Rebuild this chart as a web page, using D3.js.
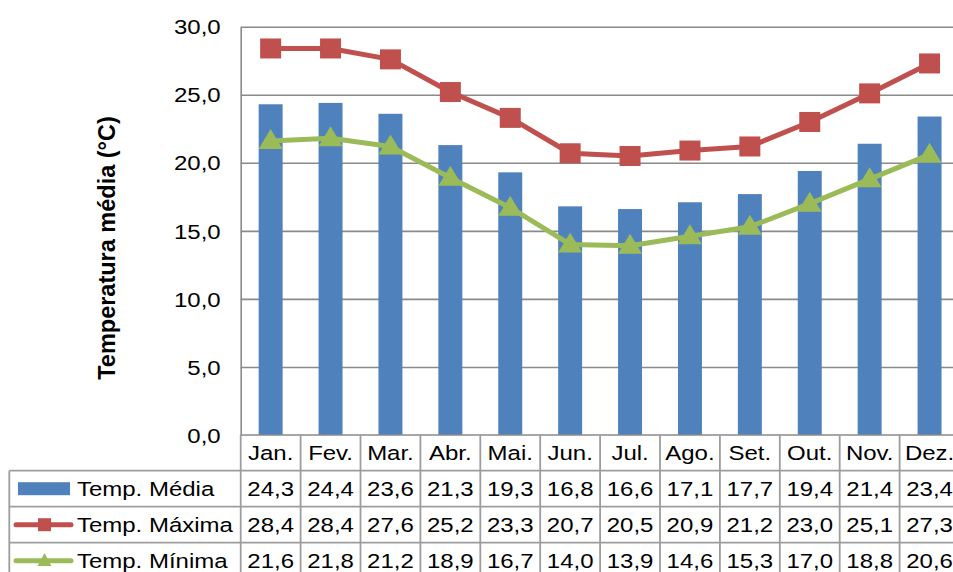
<!DOCTYPE html>
<html>
<head>
<meta charset="utf-8">
<script src="https://cdn.jsdelivr.net/npm/d3@7"></script>
<style>
  html, body { margin: 0; padding: 0; background: #fff; overflow: hidden; }
  svg { display: block; font-family: "Liberation Sans", Arial, sans-serif; }
</style>
</head>
<body>
<svg id="chart" width="953" height="572"></svg>
<script>
// Monthly temperatures (°C)
const categories = ["Jan.", "Fev.", "Mar.", "Abr.", "Mai.", "Jun.", "Jul.", "Ago.", "Set.", "Out.", "Nov.", "Dez."];
const tempMedia  = [24.3, 24.4, 23.6, 21.3, 19.3, 16.8, 16.6, 17.1, 17.7, 19.4, 21.4, 23.4];
const tempMaxima = [28.4, 28.4, 27.6, 25.2, 23.3, 20.7, 20.5, 20.9, 21.2, 23.0, 25.1, 27.3];
const tempMinima = [21.6, 21.8, 21.2, 18.9, 16.7, 14.0, 13.9, 14.6, 15.3, 17.0, 18.8, 20.6];
const yTicks = [0, 5, 10, 15, 20, 25, 30];
const seriesNames = ["Temp. Média", "Temp. Máxima", "Temp. Mínima"];

const COLORS = { media: "#4F81BD", maxima: "#C0504D", minima: "#9BBB59" };
const GRID = "#8a8a8a";
const TABLE_LINE = "#9d9d9d";
const SX = 1.17; // horizontal text widening

const fmt = v => d3.format(".1f")(v).replace(".", ",");

const svg = d3.select("#chart");

const plot = { left: 240.7, top: 26.7, bottom: 435, colW: 59.9 };
plot.right = plot.left + plot.colW * categories.length;

const x = d3.scaleBand().domain(categories).range([plot.left, plot.right]);
const xBar = d3.scaleBand().domain(categories).range([plot.left, plot.right])
  .paddingInner(0.6).paddingOuter(0.3);
const y = d3.scaleLinear().domain([0, 30]).range([plot.bottom, plot.top]);
const cx = c => x(c) + x.bandwidth() / 2;

// Gridlines
const grid = svg.append("g")
  .attr("transform", `translate(${plot.left},0)`)
  .call(d3.axisLeft(y).tickValues(yTicks.filter(t => t > 0)).tickSize(-(plot.right - plot.left)).tickFormat(""));
grid.select(".domain").remove();
grid.selectAll("line").attr("stroke", GRID).attr("stroke-width", 1.6);

// Y axis with labels
const yAxis = svg.append("g")
  .attr("transform", `translate(${plot.left},0)`)
  .call(d3.axisLeft(y).tickValues(yTicks).tickSize(0).tickFormat(fmt));
yAxis.select(".domain").attr("stroke", GRID).attr("stroke-width", 1.6);
yAxis.selectAll("text")
  .attr("x", 0).attr("dy", "0.35em")
  .attr("text-anchor", "end")
  .attr("transform", `translate(-20,0) scale(${SX},1)`)
  .attr("font-size", 20.5).attr("fill", "#000")
  .attr("font-family", "Liberation Sans, Arial, sans-serif");

// Axis title
svg.append("text")
  .attr("transform", `translate(115,248) rotate(-90)`)
  .attr("text-anchor", "middle")
  .attr("font-size", 23.5).attr("font-weight", "bold")
  .text("Temperatura média (°C)");

// Bars
svg.append("g").selectAll("rect")
  .data(categories)
  .join("rect")
  .attr("x", c => xBar(c))
  .attr("width", xBar.bandwidth())
  .attr("y", (c, i) => y(tempMedia[i]))
  .attr("height", (c, i) => y(0) - y(tempMedia[i]))
  .attr("fill", COLORS.media);

// Lines with markers
const line = d3.line().x((d, i) => cx(categories[i])).y(d => y(d));
const triangle = (w, h) => `M0,${-h * 0.6}L${w / 2},${h * 0.4}L${-w / 2},${h * 0.4}Z`;

svg.append("path").datum(tempMaxima)
  .attr("d", line).attr("fill", "none")
  .attr("stroke", COLORS.maxima).attr("stroke-width", 5).attr("stroke-linejoin", "round");
svg.append("g").selectAll("rect")
  .data(tempMaxima)
  .join("rect")
  .attr("x", (d, i) => cx(categories[i]) - 10.5)
  .attr("y", d => y(d) - 10)
  .attr("width", 21).attr("height", 20)
  .attr("fill", COLORS.maxima);

svg.append("path").datum(tempMinima)
  .attr("d", line).attr("fill", "none")
  .attr("stroke", COLORS.minima).attr("stroke-width", 5).attr("stroke-linejoin", "round");
svg.append("g").selectAll("path")
  .data(tempMinima)
  .join("path")
  .attr("transform", (d, i) => `translate(${cx(categories[i])},${y(d)})`)
  .attr("d", triangle(24, 20))
  .attr("fill", COLORS.minima);

// Data table
const rowH = 36;
const headerTop = plot.bottom, headerBottom = 470.7;
const rowTops = seriesNames.map((s, i) => headerBottom + i * rowH);
const tableLeft = 9.3;
const table = svg.append("g").attr("stroke", TABLE_LINE).attr("stroke-width", 1.8);

// horizontal rules
table.append("line").attr("x1", plot.left).attr("x2", plot.right)
  .attr("y1", headerTop).attr("y2", headerTop).attr("stroke", GRID).attr("stroke-width", 1.6);
rowTops.forEach(t => table.append("line").attr("x1", tableLeft).attr("x2", plot.right).attr("y1", t).attr("y2", t));
// vertical rules
table.append("line").attr("x1", tableLeft).attr("x2", tableLeft).attr("y1", headerBottom).attr("y2", 600);
categories.forEach(c => {
  table.append("line").attr("x1", x(c) + x.bandwidth()).attr("x2", x(c) + x.bandwidth())
    .attr("y1", headerTop).attr("y2", 600);
});
table.append("line").attr("x1", plot.left).attr("x2", plot.left).attr("y1", headerTop).attr("y2", 600);

const cellText = (g, px, py, txt, anchor) => g.append("text")
  .attr("transform", `translate(${px},${py}) scale(${SX},1)`)
  .attr("text-anchor", anchor).attr("dy", "0.35em")
  .attr("font-size", 20.5).attr("fill", "#000").text(txt);

const texts = svg.append("g");
categories.forEach(c => cellText(texts, cx(c), (headerTop + headerBottom) / 2, c, "middle"));
[tempMedia, tempMaxima, tempMinima].forEach((vals, r) => {
  const my = rowTops[r] + rowH / 2;
  vals.forEach((v, i) => cellText(texts, cx(categories[i]), my, fmt(v), "middle"));
  cellText(texts, 77, my, seriesNames[r], "start");
});

// Legend keys
const ky = rowTops.map(t => t + rowH / 2);
svg.append("rect").attr("x", 18).attr("y", ky[0] - 6.5).attr("width", 52).attr("height", 13).attr("fill", COLORS.media);
svg.append("line").attr("x1", 16).attr("x2", 71).attr("y1", ky[1]).attr("y2", ky[1])
  .attr("stroke", COLORS.maxima).attr("stroke-width", 5).attr("stroke-linecap", "round");
svg.append("rect").attr("x", 38).attr("y", ky[1] - 6.5).attr("width", 13).attr("height", 13).attr("fill", COLORS.maxima);
svg.append("line").attr("x1", 16).attr("x2", 71).attr("y1", ky[2]).attr("y2", ky[2])
  .attr("stroke", COLORS.minima).attr("stroke-width", 5).attr("stroke-linecap", "round");
svg.append("path").attr("transform", `translate(44.5,${ky[2]})`).attr("d", triangle(14, 13)).attr("fill", COLORS.minima);
</script>
</body>
</html>
